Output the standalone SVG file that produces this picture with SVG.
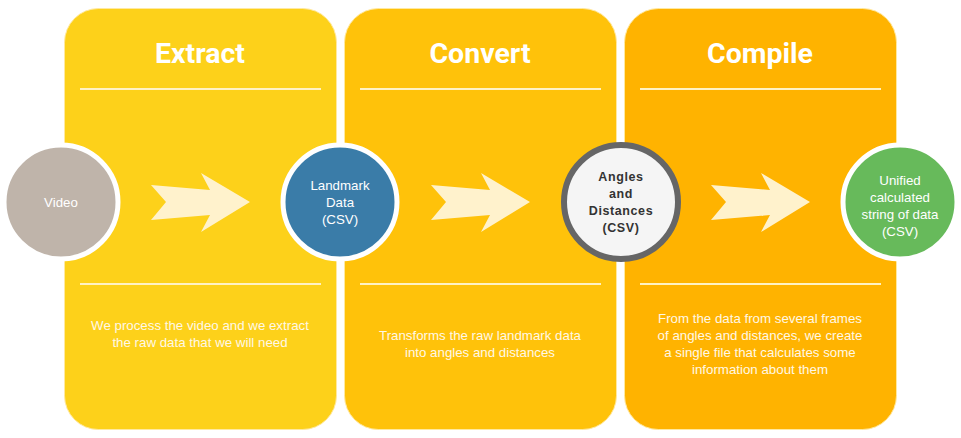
<svg xmlns="http://www.w3.org/2000/svg" width="961" height="438" viewBox="0 0 961 438">
<style>
.panel{stroke:#FFE9A0;stroke-width:1}
.title{font-family:Roboto,"Liberation Sans",sans-serif;font-weight:bold;font-size:28.500px;fill:#fff;text-anchor:middle}
.body{font-family:"Liberation Sans",Arial,sans-serif;font-size:13.300px;fill:#FFF8E6;text-anchor:middle}
.ctext{font-family:"Liberation Sans",Arial,sans-serif;font-size:13.300px;fill:#fff;text-anchor:middle}
.dark{fill:#333;font-weight:bold;font-size:12.500px;letter-spacing:0.6px}
.rule{stroke:#FFF2C4;stroke-width:2}
.arrow{fill:#FFF2CC}
</style>
<rect width="961" height="438" fill="#fff"/>
<g id="panel-extract">
<rect class="panel" x="64.500" y="8.500" width="272" height="421" rx="34" fill="#FDD11A"/>
<text class="title" x="200" y="63">Extract</text>
<line class="rule" x1="80" y1="89" x2="321" y2="89"/>
<line class="rule" x1="80" y1="284" x2="321" y2="284"/>
<text class="body" x="200" y="330">We process the video and we extract</text>
<text class="body" x="200" y="347">the raw data that we will need</text>
</g>
<g id="panel-convert">
<rect class="panel" x="344.500" y="8.500" width="272" height="421" rx="34" fill="#FFC20A"/>
<text class="title" x="480" y="63">Convert</text>
<line class="rule" x1="360" y1="89" x2="601" y2="89"/>
<line class="rule" x1="360" y1="284" x2="601" y2="284"/>
<text class="body" x="480" y="340">Transforms the raw landmark data</text>
<text class="body" x="480" y="357">into angles and distances</text>
</g>
<g id="panel-compile">
<rect class="panel" x="624.500" y="8.500" width="272" height="421" rx="34" fill="#FFB300"/>
<text class="title" x="760" y="63">Compile</text>
<line class="rule" x1="640" y1="89" x2="881" y2="89"/>
<line class="rule" x1="640" y1="284" x2="881" y2="284"/>
<text class="body" x="760" y="323">From the data from several frames</text>
<text class="body" x="760" y="340">of angles and distances, we create</text>
<text class="body" x="760" y="357">a single file that calculates some</text>
<text class="body" x="760" y="374">information about them</text>
</g>
<g id="connectors">
<path class="arrow" d="M151,185 L210,190 L201,173 L250,202 L201,232 L210,215 L151,220 L166,202 Z"/>
<path class="arrow" transform="translate(280,0)" d="M151,185 L210,190 L201,173 L250,202 L201,232 L210,215 L151,220 L166,202 Z"/>
<path class="arrow" transform="translate(560,0)" d="M151,185 L210,190 L201,173 L250,202 L201,232 L210,215 L151,220 L166,202 Z"/>
</g>
<g id="node-video">
<circle cx="61" cy="202" r="57" fill="#BFB4AA" stroke="#fff" stroke-width="5"/>
<text class="ctext" x="61" y="207">Video</text>
</g>
<g id="node-landmark">
<circle cx="340" cy="202" r="57" fill="#3A7CA8" stroke="#fff" stroke-width="5"/>
<text class="ctext" x="340" y="190">Landmark</text>
<text class="ctext" x="340" y="207">Data</text>
<text class="ctext" x="340" y="224">(CSV)</text>
</g>
<g id="node-angles">
<circle cx="621" cy="202" r="57" fill="#F5F5F5" stroke="#666" stroke-width="6"/>
<text class="ctext dark" x="621" y="181">Angles</text>
<text class="ctext dark" x="621" y="198">and</text>
<text class="ctext dark" x="621" y="215">Distances</text>
<text class="ctext dark" x="621" y="232">(CSV)</text>
</g>
<g id="node-unified">
<circle cx="900" cy="202" r="57" fill="#67BA5B" stroke="#fff" stroke-width="5"/>
<text class="ctext" x="900" y="185">Unified</text>
<text class="ctext" x="900" y="202">calculated</text>
<text class="ctext" x="900" y="219">string of data</text>
<text class="ctext" x="900" y="236">(CSV)</text>
</g>
</svg>
